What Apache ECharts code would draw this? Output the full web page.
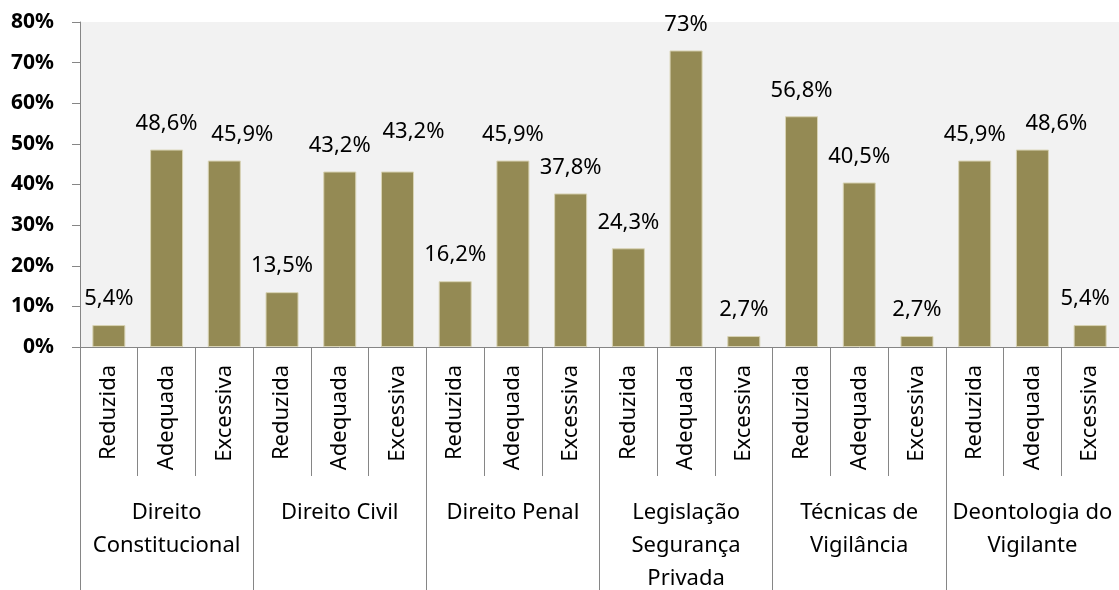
<!DOCTYPE html>
<html>
<head>
<meta charset="utf-8">
<script src="https://cdn.jsdelivr.net/npm/echarts@6/dist/echarts.min.js"></script>
<style>
    html, body { margin: 0; padding: 0; background: #fff; }
    #chart { width: 1119px; height: 590px; }
</style>
</head>
<body>
<div id="chart"></div>
<script>
// sub-categories (one bar each) and their group labels
const levels = ['Reduzida', 'Adequada', 'Excessiva',
    'Reduzida', 'Adequada', 'Excessiva',
    'Reduzida', 'Adequada', 'Excessiva',
    'Reduzida', 'Adequada', 'Excessiva',
    'Reduzida', 'Adequada', 'Excessiva',
    'Reduzida', 'Adequada', 'Excessiva'];
const groups = ['Direito\nConstitucional', 'Direito Civil', 'Direito Penal',
    'Legislação\nSegurança\nPrivada', 'Técnicas de\nVigilância', 'Deontologia do\nVigilante'];
const values = [5.4, 48.6, 45.9, 13.5, 43.2, 43.2, 16.2, 45.9, 37.8,
    24.3, 73, 2.7, 56.8, 40.5, 2.7, 45.9, 48.6, 5.4];
const yTicks = [0, 10, 20, 30, 40, 50, 60, 70, 80];

const font = '"Noto Sans", "Open Sans", sans-serif';
const axisGray = '#868686';

// a few labels were nudged by hand in the original so they don't collide
const labelNudge = {
    2: [18, 0],
    5: [16, -14],
    16: [24, 0],
    17: [-5, 0]
};

let chart = echarts.init(document.getElementById('chart'));

let barData = values.map((v, i) => {
    if (labelNudge[i] === undefined) return v;
    return { value: v, label: { offset: labelNudge[i] } };
});

let option = {
    animation: false,
    textStyle: { fontFamily: font },
    grid: {
        left: 80,
        right: 0,
        top: 22,
        bottom: 243,
        outerBoundsMode: 'none',
        containLabel: false,
        show: true,
        backgroundColor: '#f2f2f2',
        borderWidth: 0
    },
    xAxis: [
        {
            type: 'category',
            data: levels,
            position: 'bottom',
            axisLine: { lineStyle: { color: axisGray, width: 1 } },
            axisTick: { show: true, length: 129, lineStyle: { color: axisGray, width: 1 } },
            axisLabel: {
                rotate: 90,
                margin: 18,
                interval: 0,
                color: '#000',
                fontSize: 22,
                fontFamily: font
            }
        },
        {
            type: 'category',
            data: groups,
            position: 'bottom',
            axisLine: { show: false },
            axisTick: { show: true, length: 243, lineStyle: { color: axisGray, width: 1 } },
            axisLabel: {
                interval: 0,
                margin: 149,
                color: '#000',
                fontSize: 22,
                lineHeight: 33,
                verticalAlign: 'top',
                fontFamily: font
            }
        }
    ],
    yAxis: {
        type: 'value',
        min: yTicks[0],
        max: yTicks[yTicks.length - 1],
        interval: 10,
        splitLine: { show: false },
        axisLine: { show: true, lineStyle: { color: axisGray, width: 1 } },
        axisTick: { show: true, length: 8, lineStyle: { color: axisGray } },
        axisLabel: {
            formatter: v => v + '%',
            color: '#000',
            fontSize: 21,
            fontWeight: 'bold',
            margin: 26,
            fontFamily: font
        }
    },
    series: [
        {
            type: 'bar',
            data: barData,
            barWidth: 33,
            itemStyle: { color: '#948a54', borderColor: '#d8d3b4', borderWidth: 1 },
            label: {
                show: true,
                position: 'top',
                distance: 15,
                color: '#000',
                fontSize: 22,
                fontFamily: font,
                formatter: p => String(p.value).replace('.', ',') + '%'
            }
        }
    ]
};

chart.setOption(option);
</script>
</body>
</html>
